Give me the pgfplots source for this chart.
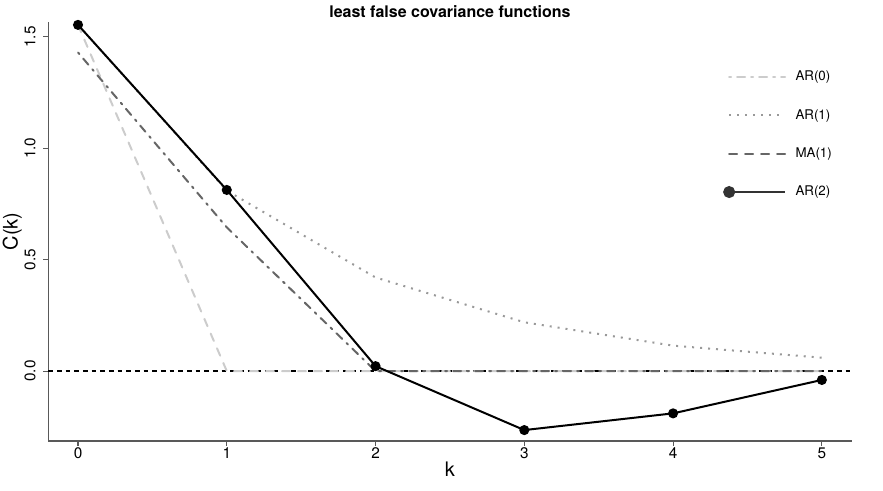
\documentclass[border=0pt]{standalone}
\usepackage{fontspec}
\setmainfont{TeX Gyre Heros}
\usepackage{pgfplots}
\pgfplotsset{compat=1.18}
\definecolor{arzero}{gray}{0.80}
\definecolor{arone}{gray}{0.60}
\definecolor{maone}{gray}{0.40}
\definecolor{axgray}{gray}{0.35}
\definecolor{legdark}{gray}{0.2}
\pgfplotsset{
  lineleg/.style={legend image code/.code={\draw[##1] (0pt,0pt) -- (42pt,0pt);}},
  ar2leg/.style={legend image code/.code={\draw[##1] (0pt,0pt) -- (42pt,0pt); \fill[legdark] (0pt,0pt) circle (3.75pt);}},
}
\begin{document}
\begin{tikzpicture}
\path[use as bounding box] (-36.2pt,-37.5pt) rectangle (626.05pt,330.75pt);
\begin{axis}[
  at={(0pt,0pt)}, anchor=south west,
  scale only axis, width=602.5pt, height=314.25pt,
  xmin=-0.2, xmax=5.2, ymin=-0.314, ymax=1.567,
  axis x line*=bottom, axis y line*=left,
  axis line style={-, axgray, line width=0.9pt},
  xtick={0,1,2,3,4,5}, ytick={0,0.5,1,1.5},
  tick style={axgray, line width=0.8pt},
  tick align=outside, major tick length=3.75pt,
  /pgf/number format/assume math mode=true,
  tick label style={font=\fontsize{11.5}{13}\selectfont},
  xticklabel style={yshift=2pt},
  yticklabel style={xshift=-2.25pt, /pgf/number format/fixed, /pgf/number format/precision=1, /pgf/number format/fixed zerofill, rotate=90, anchor=south},
  title={least false covariance functions},
  title style={font=\bfseries\fontsize{12}{14}\selectfont, at={(axis description cs:0.5,1)}, anchor=base, yshift=-3pt},
  xlabel={k}, ylabel={C(k)},
  xlabel style={font=\fontsize{15}{18}\selectfont, at={(axis description cs:0.5,0)}, anchor=base, yshift=-27pt},
  ylabel style={font=\fontsize{15}{18}\selectfont, at={(axis description cs:-0.0448,0.5)}, anchor=center},
  legend style={draw=none, fill=none, at={(axis description cs:0.8398,0.89)}, anchor=north west, inner sep=0pt, font=\fontsize{10}{12}\selectfont, row sep=16pt, cells={anchor=west}, /tikz/every odd column/.append style={column sep=5pt}},
  legend cell align=left,
  lineleg,
  clip=false,
]
\addlegendimage{lineleg, line width=1.5pt, color=arzero, line cap=round, dash pattern=on 1.5pt off 4.5pt on 6pt off 4.5pt}
\addlegendentry{AR(0)}
\addlegendimage{lineleg, line width=1.5pt, color=arone, dash pattern=on 1.5pt off 4.5pt}
\addlegendentry{AR(1)}
\addlegendimage{lineleg, line width=1.5pt, color=maone, line cap=round, dash pattern=on 6pt off 6pt}
\addlegendentry{MA(1)}
\addlegendimage{ar2leg, line width=1.5pt, color=legdark}
\addlegendentry{AR(2)}

\addplot[forget plot, black, line width=1pt, dash pattern=on 3.5pt off 3pt] coordinates {(-0.2,0) (5.2,0)};
\addplot[forget plot, arzero, line width=1.5pt, line cap=round, dash pattern=on 6pt off 6pt] coordinates {(0,1.554) (1,0) (2,0) (3,0) (4,0) (5,0)};
\addplot[forget plot, arone, line width=1.5pt, dash pattern=on 1.5pt off 4.5pt] coordinates {(0,1.554) (1,0.810) (2,0.420) (3,0.219) (4,0.114) (5,0.060)};
\addplot[forget plot, maone, line width=1.5pt, line cap=round, dash pattern=on 1.5pt off 4.5pt on 6pt off 4.5pt] coordinates {(0,1.43) (1,0.645) (2,0) (3,0) (4,0) (5,0)};
\addplot[forget plot, black, line width=1.5pt, mark=*, mark size=3pt, mark options={solid, fill=black}] coordinates {(0,1.554) (1,0.813) (2,0.022) (3,-0.265) (4,-0.19) (5,-0.04)};
\end{axis}
\end{tikzpicture}
\end{document}
